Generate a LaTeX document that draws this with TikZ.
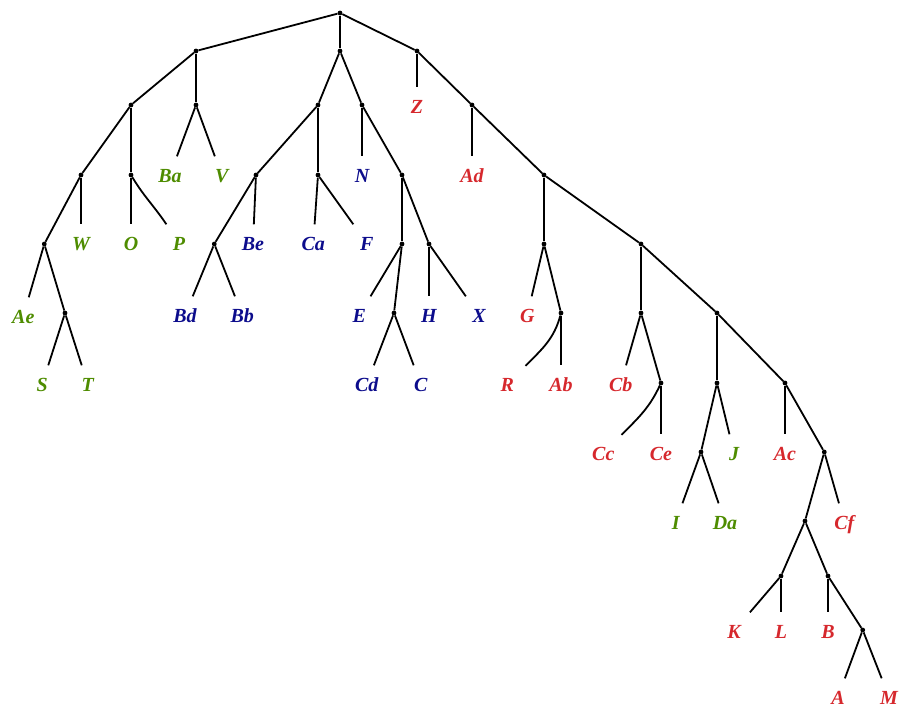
\documentclass[tikz,border=0pt]{standalone}
\usepackage{fontspec}
\setmainfont{Liberation Serif}
\definecolor{lgreen}{RGB}{78,140,0}
\definecolor{lred}{RGB}{214,40,45}
\definecolor{lblue}{RGB}{12,12,140}
\begin{document}
\begin{tikzpicture}[x=1pt,y=-1pt,
  dot/.style={circle,fill=black,inner sep=0pt,minimum size=4.8pt},
  leaf/.style={rectangle,inner sep=0pt,minimum width=36pt,minimum height=37pt,text height=14pt,text depth=0pt,font=\fontsize{20}{20}\selectfont\bfseries\itshape},
  gl/.style={leaf,text=lgreen},
  rl/.style={leaf,text=lred},
  bl/.style={leaf,text=lblue},
  edge/.style={line width=1.8pt}]
\useasboundingbox (0,0) rectangle (900,707);
% internal nodes
\node[dot] (root) at (340,13) {};
\node[dot] (n1) at (196,51) {};
\node[dot] (n2) at (340,51) {};
\node[dot] (n3) at (417,51) {};
\node[dot] (a) at (131,105) {};
\node[dot] (b) at (196,105) {};
\node[dot] (c) at (318,105) {};
\node[dot] (d) at (362,105) {};
\node[dot] (p) at (472,105) {};
\node[dot] (h) at (81,175) {};
\node[dot] (i) at (131,175) {};
\node[dot] (f) at (256,175) {};
\node[dot] (g) at (318,175) {};
\node[dot] (e) at (402,175) {};
\node[dot] (q) at (544,175) {};
\node[dot] (j) at (44.3,244) {};
\node[dot] (k) at (214.3,244) {};
\node[dot] (l) at (402,244) {};
\node[dot] (m) at (429,244) {};
\node[dot] (r) at (544,244) {};
\node[dot] (s) at (641,244) {};
\node[dot] (n) at (65,313) {};
\node[dot] (o) at (394,313) {};
\node[dot] (t) at (561,313) {};
\node[dot] (u) at (641,313) {};
\node[dot] (v) at (717,313) {};
\node[dot] (w) at (661,383) {};
\node[dot] (x) at (717,383) {};
\node[dot] (y) at (785,383) {};
\node[dot] (z) at (701,452) {};
\node[dot] (aa) at (824.3,452) {};
\node[dot] (bb) at (805,521) {};
\node[dot] (cc) at (781,576) {};
\node[dot] (dd) at (828,576) {};
\node[dot] (ee) at (862.7,630) {};
% leaves
\node[rl] (Z) at (417,106) {Z};
\node[gl] (Ba) at (170,175) {Ba};
\node[gl] (V) at (221.7,175) {V};
\node[bl] (N) at (362,175) {N};
\node[rl] (Ad) at (472,175) {Ad};
\node[gl] (W) at (81,243) {W};
\node[gl] (O) at (131,243) {O};
\node[gl] (P) at (179,243) {P};
\node[bl] (Be) at (253,243) {Be};
\node[bl] (Ca) at (313.3,243) {Ca};
\node[bl] (F) at (366.7,243) {F};
\node[gl] (Ae) at (23.3,316) {Ae};
\node[bl] (Bd) at (185,315) {Bd};
\node[bl] (Bb) at (242.3,315) {Bb};
\node[bl] (E) at (359.3,315) {E};
\node[bl] (H) at (429,315) {H};
\node[bl] (X) at (479,315) {X};
\node[rl] (G) at (527.3,315) {G};
\node[gl] (S) at (42.3,384) {S};
\node[gl] (T) at (87.7,384) {T};
\node[bl] (Cd) at (366.7,384) {Cd};
\node[bl] (C) at (420.7,384) {C};
\node[rl] (R) at (507.3,384) {R};
\node[rl] (Ab) at (561,384) {Ab};
\node[rl] (Cb) at (620.7,384) {Cb};
\node[rl] (Cc) at (603.3,453) {Cc};
\node[rl] (Ce) at (661,453) {Ce};
\node[gl] (J) at (734,453) {J};
\node[rl] (Ac) at (785,453) {Ac};
\node[gl] (I) at (675.7,522) {I};
\node[gl] (Da) at (725,522) {Da};
\node[rl] (Cf) at (844.3,522) {Cf};
\node[rl] (K) at (734,631) {K};
\node[rl] (L) at (781,631) {L};
\node[rl] (B) at (828,631) {B};
\node[rl] (A) at (838,697) {A};
\node[rl] (M) at (889,697) {M};
% edges
\begin{scope}[edge]
\draw (root) -- (n1); \draw (root) -- (n2); \draw (root) -- (n3);
\draw (n1) -- (a); \draw (n1) -- (b);
\draw (n2) -- (c); \draw (n2) -- (d);
\draw (n3) -- (Z); \draw (n3) -- (p);
\draw (a) -- (h); \draw (a) -- (i);
\draw (b) -- (Ba); \draw (b) -- (V);
\draw (c) -- (f); \draw (c) -- (g);
\draw (d) -- (N); \draw (d) -- (e);
\draw (p) -- (Ad); \draw (p) -- (q);
\draw (h) -- (j); \draw (h) -- (W);
\draw (i) -- (O); \draw (i) to[out=-59,in=124] (P);
\draw (f) -- (k); \draw (f) -- (Be);
\draw (g) -- (Ca); \draw (g) -- (F);
\draw (e) -- (l); \draw (e) -- (m);
\draw (q) -- (r); \draw (q) -- (s);
\draw (j) -- (Ae); \draw (j) -- (n);
\draw (k) -- (Bd); \draw (k) -- (Bb);
\draw (l) -- (E); \draw (l) -- (o);
\draw (m) -- (H); \draw (m) -- (X);
\draw (r) -- (G); \draw (r) -- (t);
\draw (s) -- (u); \draw (s) -- (v);
\draw (n) -- (S); \draw (n) -- (T);
\draw (o) -- (Cd); \draw (o) -- (C);
\draw (t) to[out=-105,in=45] (R); \draw (t) -- (Ab);
\draw (u) -- (Cb); \draw (u) -- (w);
\draw (v) -- (x); \draw (v) -- (y);
\draw (w) to[out=-115,in=45] (Cc); \draw (w) -- (Ce);
\draw (x) -- (z); \draw (x) -- (J);
\draw (y) -- (Ac); \draw (y) -- (aa);
\draw (z) -- (I); \draw (z) -- (Da);
\draw (aa) -- (bb); \draw (aa) -- (Cf);
\draw (bb) -- (cc); \draw (bb) -- (dd);
\draw (cc) -- (K); \draw (cc) -- (L);
\draw (dd) -- (B); \draw (dd) -- (ee);
\draw (ee) -- (A); \draw (ee) -- (M);
\end{scope}
\end{tikzpicture}
\end{document}
